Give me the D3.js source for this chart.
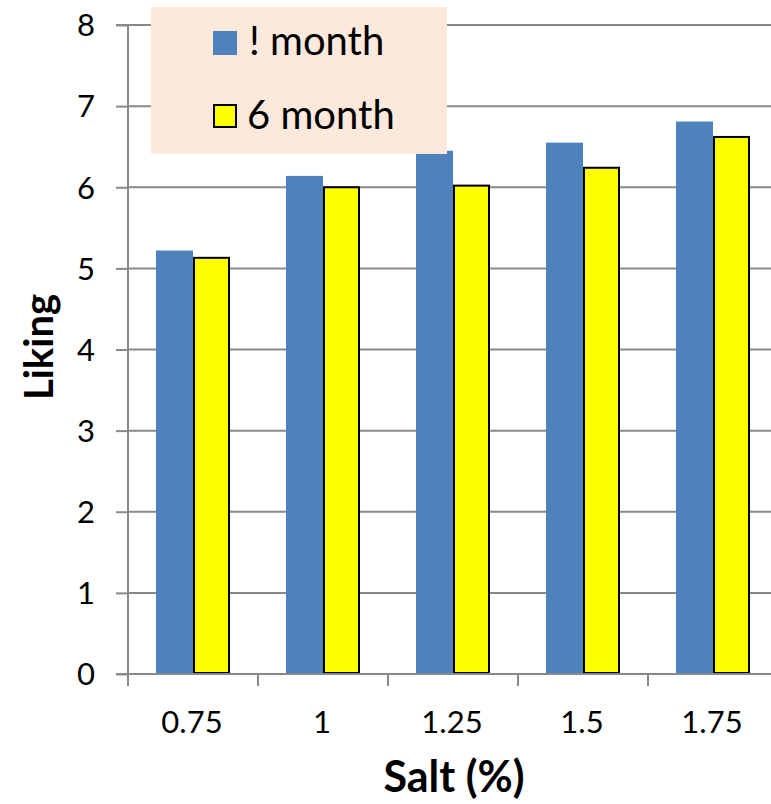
<!DOCTYPE html>
<html><head><meta charset="utf-8">
<script src="https://cdn.jsdelivr.net/npm/d3@7"></script>
<style>html,body{margin:0;padding:0;background:#fff;overflow:hidden}</style>
</head><body>
<script>
const categories = ["0.75","1","1.25","1.5","1.75"];
const seriesNames = ["! month","6 month"];
const oneMonth = [5.22,6.14,6.45,6.55,6.81];
const sixMonth = [5.13,6.00,6.02,6.24,6.62];
const yTicks = [0,1,2,3,4,5,6,7,8];

const W=771,H=804;
const pLeft=128, pRight=778, pTop=25, pBottom=674;
const svg=d3.select("body").append("svg").attr("width",W).attr("height",H);
const font="Lato, 'Open Sans', sans-serif";

const x=d3.scaleBand().domain(categories).range([pLeft,pRight]).paddingInner(0).paddingOuter(0);
const y=d3.scaleLinear().domain([0,8]).range([pBottom,pTop]);
const inner=d3.scaleBand().domain([0,1]).range([0,74]);

// gridlines
svg.append("g").selectAll("line").data(yTicks.filter(d=>d>0)).join("line")
 .attr("x1",pLeft).attr("x2",pRight).attr("y1",d=>y(d)).attr("y2",d=>y(d))
 .attr("stroke","#898989").attr("stroke-width",2);

// y axis
const ya=svg.append("g").attr("transform",`translate(${pLeft},0)`)
 .call(d3.axisLeft(y).tickValues(yTicks).tickSize(12).tickPadding(21).tickFormat(d3.format("d")));
ya.select(".domain").attr("stroke","#898989").attr("stroke-width",2).attr("d",`M-12,${pTop}H0V${pBottom}`);
ya.selectAll(".tick line").attr("stroke","#898989").attr("stroke-width",2);
ya.selectAll("text").attr("font-family",font).attr("font-size",31).attr("fill","#000").attr("dy","0.35em");

// bars
const data=categories.map((c,i)=>({c,vals:[oneMonth[i],sixMonth[i]]}));
const g=svg.append("g");
const grp=g.selectAll("g").data(data).join("g")
 .attr("transform",d=>`translate(${x(d.c)+x.bandwidth()/2-37},0)`);
grp.append("rect").attr("x",inner(0)).attr("width",37)
 .attr("y",d=>y(d.vals[0])).attr("height",d=>y(0)-y(d.vals[0])).attr("fill","#4F81BD");
grp.append("rect").attr("x",inner(1)+1).attr("width",35)
 .attr("y",d=>y(d.vals[1])).attr("height",d=>y(0)-y(d.vals[1])-1).attr("fill","#FFFF00")
 .attr("stroke","#000").attr("stroke-width",2);

// x axis
const xa=svg.append("g").attr("transform",`translate(0,${pBottom})`);
xa.append("line").attr("x1",pLeft-12).attr("x2",pRight).attr("y1",0).attr("y2",0).attr("stroke","#898989").attr("stroke-width",2);
const xt=d3.range(categories.length+1).map(i=>pLeft+i*x.step());
xa.selectAll(".tk").data(xt).join("line").attr("class","tk")
 .attr("x1",d=>d).attr("x2",d=>d).attr("y1",0).attr("y2",12).attr("stroke","#898989").attr("stroke-width",2);
xa.selectAll("text").data(categories).join("text")
 .attr("x",d=>x(d)+x.bandwidth()/2-1).attr("y",59).attr("text-anchor","middle")
 .attr("font-family",font).attr("font-size",31).text(d=>d);

// axis titles
svg.append("text").attr("transform","translate(53,347) rotate(-90)").attr("text-anchor","middle")
 .attr("font-family",font).attr("font-weight","bold").attr("font-size",40).text("Liking");
svg.append("text").attr("x",454).attr("y",792).attr("text-anchor","middle")
 .attr("font-family",font).attr("font-weight","bold").attr("font-size",43).text("Salt (%)");

// legend
const lg=svg.append("g");
lg.append("rect").attr("x",151).attr("y",7).attr("width",296).attr("height",147).attr("fill","#FCE9DC");
const lcol=["#4F81BD","#FFFF00"];
seriesNames.forEach((s,i)=>{
  const yy=i===0?31:105;
  lg.append("rect").attr("x",i===0?213:214).attr("y",yy).attr("width",i===0?24:22).attr("height",i===0?24:22)
   .attr("fill",lcol[i]).attr("stroke",i===1?"#000":"none").attr("stroke-width",2);
  lg.append("text").attr("x",i===0?249:247).attr("y",yy+24).attr("font-family",font).attr("font-size",40).text(s);
});
</script>
</body></html>
